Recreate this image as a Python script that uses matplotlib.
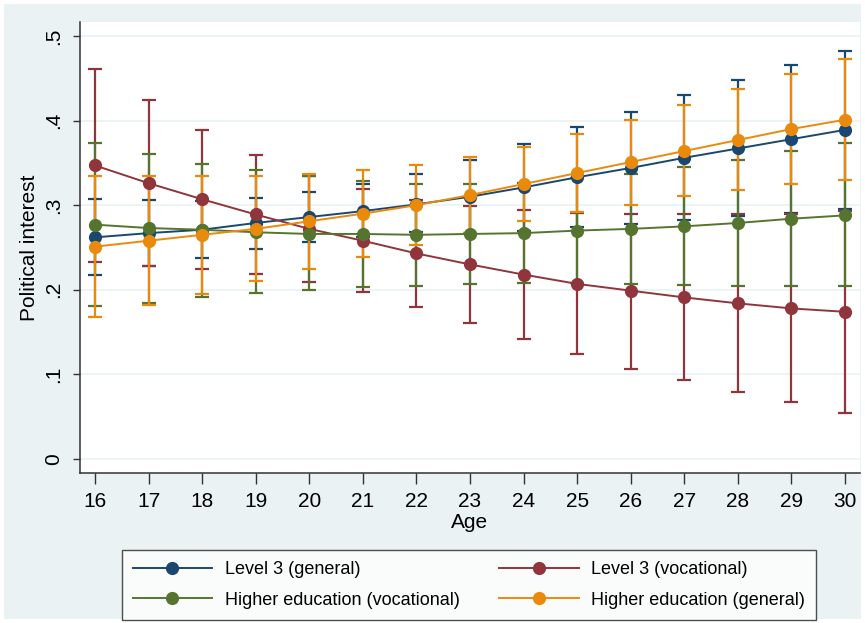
import matplotlib
matplotlib.use("Agg")
import matplotlib.pyplot as plt
from matplotlib.patches import Rectangle

plt.rcParams["font.family"] = ["Liberation Sans Narrow", "Liberation Sans", "DejaVu Sans"]

ages = list(range(16, 31))
y_ticks = [0, 0.1, 0.2, 0.3, 0.4, 0.5]
y_tick_labels = ["0", ".1", ".2", ".3", ".4", ".5"]

# Level 3 (general)
l3_gen = [0.262, 0.267, 0.271, 0.279, 0.286, 0.293, 0.301, 0.310, 0.321, 0.333, 0.344, 0.356, 0.367, 0.378, 0.389]
l3_gen_lo = [0.218, 0.228, 0.238, 0.248, 0.256, 0.262, 0.268, 0.267, 0.270, 0.274, 0.278, 0.283, 0.287, 0.291, 0.295]
l3_gen_hi = [0.307, 0.306, 0.305, 0.309, 0.315, 0.325, 0.337, 0.353, 0.372, 0.392, 0.410, 0.430, 0.448, 0.466, 0.482]

# Level 3 (vocational)
l3_voc = [0.347, 0.326, 0.307, 0.289, 0.272, 0.258, 0.243, 0.230, 0.218, 0.207, 0.199, 0.191, 0.184, 0.178, 0.174]
l3_voc_lo = [0.233, 0.228, 0.225, 0.219, 0.209, 0.197, 0.180, 0.161, 0.142, 0.124, 0.107, 0.093, 0.079, 0.067, 0.055]
l3_voc_hi = [0.461, 0.424, 0.389, 0.359, 0.335, 0.319, 0.306, 0.299, 0.294, 0.291, 0.290, 0.289, 0.289, 0.289, 0.293]

# Higher education (vocational)
he_voc = [0.277, 0.273, 0.271, 0.268, 0.266, 0.266, 0.265, 0.266, 0.267, 0.270, 0.272, 0.275, 0.279, 0.284, 0.288]
he_voc_lo = [0.181, 0.185, 0.191, 0.196, 0.200, 0.203, 0.205, 0.207, 0.208, 0.208, 0.207, 0.206, 0.205, 0.205, 0.205]
he_voc_hi = [0.374, 0.361, 0.349, 0.341, 0.334, 0.328, 0.325, 0.325, 0.326, 0.332, 0.337, 0.345, 0.354, 0.364, 0.374]

# Higher education (general)
he_gen = [0.251, 0.258, 0.265, 0.272, 0.281, 0.290, 0.300, 0.312, 0.325, 0.338, 0.351, 0.364, 0.377, 0.390, 0.401]
he_gen_lo = [0.168, 0.182, 0.195, 0.210, 0.225, 0.239, 0.253, 0.267, 0.281, 0.292, 0.300, 0.311, 0.318, 0.325, 0.330]
he_gen_hi = [0.335, 0.334, 0.334, 0.335, 0.337, 0.342, 0.348, 0.357, 0.369, 0.384, 0.401, 0.418, 0.437, 0.455, 0.473]

series = [
    ("Level 3 (general)", l3_gen, l3_gen_lo, l3_gen_hi, "#1a476f"),
    ("Level 3 (vocational)", l3_voc, l3_voc_lo, l3_voc_hi, "#90353b"),
    ("Higher education (vocational)", he_voc, he_voc_lo, he_voc_hi, "#55752f"),
    ("Higher education (general)", he_gen, he_gen_lo, he_gen_hi, "#ea8a0c"),
]

bg = "#eaf2f3"
fig = plt.figure(figsize=(8.65, 6.23), dpi=100, facecolor="white")
fig.patches.append(Rectangle((4 / 865, 4 / 623), 857 / 865, 615 / 623,
                             transform=fig.transFigure, facecolor=bg,
                             edgecolor="none", zorder=-10))
ax = fig.add_axes([80 / 865, 1 - 473 / 623, 780 / 865, 451 / 623])
ax.set_facecolor("white")

# CIs first, lines on top (like marginsplot)
for i, (name, m, lo, hi, col) in enumerate(series):
    err = [[a - b for a, b in zip(m, lo)], [b - a for a, b in zip(m, hi)]]
    ax.errorbar(ages, m, yerr=err, fmt="none", ecolor=col, elinewidth=1.6,
                capsize=5, capthick=1.6, zorder=2 + i * 0.1)

handles = {}
for i, (name, m, lo, hi, col) in enumerate(series):
    ln, = ax.plot(ages, m, color=col, lw=1.4, marker="o", markersize=9.5,
                  markeredgewidth=0, zorder=5 + i, label=name)
    handles[name] = ln

ax.set_xlim(15.72, 30.28)
ax.set_ylim(-0.0165, 0.5165)
ax.set_xticks(ages)
ax.set_xticklabels([str(a) for a in ages], fontsize=15)
ax.set_yticks(y_ticks)
ax.set_yticklabels(y_tick_labels, fontsize=15, rotation=90, va="center")
ax.tick_params(axis="x", length=8, width=1, color="#333333", pad=6)
ax.tick_params(axis="y", length=5, width=1, color="#333333", pad=7)
ax.grid(axis="y", color="#eaf2f3", lw=1.2)
ax.set_axisbelow(True)
for s in ["top", "right"]:
    ax.spines[s].set_visible(False)
for s in ["left", "bottom"]:
    ax.spines[s].set_color("#333333")
    ax.spines[s].set_linewidth(1.1)

ax.set_xlabel("Age", fontsize=15, labelpad=1)
ax.set_ylabel("Political interest", fontsize=15, labelpad=4)

order = ["Level 3 (general)", "Higher education (vocational)",
         "Level 3 (vocational)", "Higher education (general)"]
leg = fig.legend([handles[k] for k in order], order, ncol=2,
                 loc="center", bbox_to_anchor=(469 / 865, 1 - 585 / 623),
                 fontsize=13, frameon=True, fancybox=False,
                 edgecolor="#222222", handlelength=4.4, handletextpad=0.7,
                 columnspacing=2.2, borderpad=0.6, labelspacing=0.75)
leg.get_frame().set_linewidth(1.0)

fig.savefig("out.png", dpi=100, facecolor=fig.get_facecolor())
